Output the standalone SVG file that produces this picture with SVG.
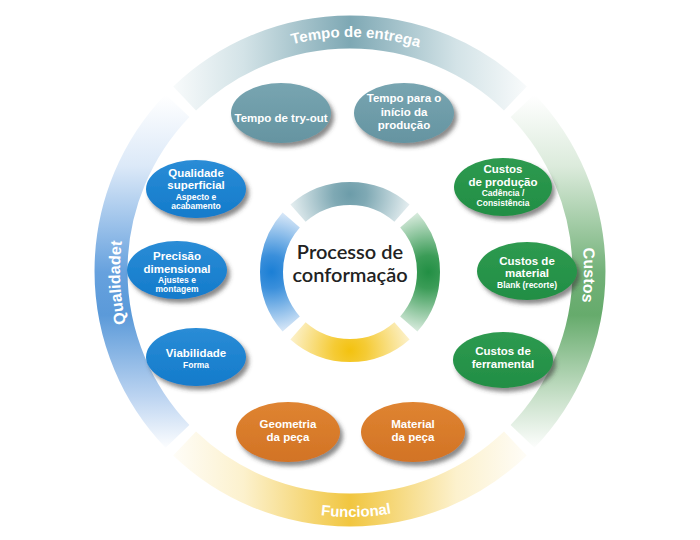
<svg xmlns="http://www.w3.org/2000/svg" width="700" height="540" viewBox="0 0 700 540">
<defs>
<style>
.ring{fill:none;stroke-width:33}
.iring{fill:none;stroke-width:23}
.rt{font-family:"Liberation Sans",Arial,sans-serif;font-weight:bold;fill:#fff}
.t{font-family:"Liberation Sans",Arial,sans-serif;font-weight:bold;fill:#fff;font-size:11.5px;text-anchor:middle}
.s{font-family:"Liberation Sans",Arial,sans-serif;font-weight:bold;fill:#fff;font-size:8.5px;text-anchor:middle}
.c{font-family:Lato,"Open Sans",sans-serif;font-weight:600;fill:#222;font-size:20px;text-anchor:middle}
.n{filter:url(#sh)}
</style>
<filter id="sh" x="-20%" y="-20%" width="140%" height="150%">
<feDropShadow dx="3" dy="4" stdDeviation="2.2" flood-color="#3a3a3a" flood-opacity="0.6"/>
</filter>
<linearGradient id="oTop" gradientUnits="userSpaceOnUse" x1="160" y1="0" x2="540" y2="0">
<stop offset="0" stop-color="#ffffff"/><stop offset="0.22" stop-color="#d3e3e7"/><stop offset="0.5" stop-color="#7ea8b4"/><stop offset="0.78" stop-color="#d3e3e7"/><stop offset="1" stop-color="#ffffff"/>
</linearGradient>
<linearGradient id="oBot" gradientUnits="userSpaceOnUse" x1="160" y1="0" x2="540" y2="0">
<stop offset="0" stop-color="#ffffff"/><stop offset="0.22" stop-color="#fcf1cd"/><stop offset="0.5" stop-color="#f1c640"/><stop offset="0.78" stop-color="#fcf1cd"/><stop offset="1" stop-color="#ffffff"/>
</linearGradient>
<linearGradient id="oLeft" gradientUnits="userSpaceOnUse" x1="0" y1="95" x2="0" y2="450">
<stop offset="0" stop-color="#ffffff"/><stop offset="0.2" stop-color="#dce9f8"/><stop offset="0.5" stop-color="#66a1de"/><stop offset="0.62" stop-color="#5b9ad9"/><stop offset="0.85" stop-color="#bcd4f1"/><stop offset="1" stop-color="#ffffff"/>
</linearGradient>
<linearGradient id="oRight" gradientUnits="userSpaceOnUse" x1="0" y1="95" x2="0" y2="450">
<stop offset="0" stop-color="#ffffff"/><stop offset="0.2" stop-color="#dcebdc"/><stop offset="0.5" stop-color="#72b178"/><stop offset="0.62" stop-color="#66ab6c"/><stop offset="0.85" stop-color="#c8e0c9"/><stop offset="1" stop-color="#ffffff"/>
</linearGradient>
<radialGradient id="iTop" gradientUnits="userSpaceOnUse" cx="350" cy="194" r="66">
<stop offset="0" stop-color="#6c9ca9"/><stop offset="0.25" stop-color="#7fa9b4"/><stop offset="1" stop-color="#f2f7f8"/>
</radialGradient>
<radialGradient id="iRight" gradientUnits="userSpaceOnUse" cx="428.5" cy="272" r="66">
<stop offset="0" stop-color="#228f44"/><stop offset="0.25" stop-color="#3b9c57"/><stop offset="1" stop-color="#eef6f0"/>
</radialGradient>
<radialGradient id="iBot" gradientUnits="userSpaceOnUse" cx="350" cy="350.5" r="66">
<stop offset="0" stop-color="#f3c20f"/><stop offset="0.25" stop-color="#f5cb35"/><stop offset="1" stop-color="#fdf6de"/>
</radialGradient>
<radialGradient id="iLeft" gradientUnits="userSpaceOnUse" cx="271.5" cy="272" r="66">
<stop offset="0" stop-color="#1b7fd5"/><stop offset="0.25" stop-color="#3a8fdb"/><stop offset="1" stop-color="#eef4fc"/>
</radialGradient>
<linearGradient id="gTeal" x1="0" y1="0" x2="0" y2="1">
<stop offset="0" stop-color="#78a5b1"/><stop offset="1" stop-color="#6594a1"/>
</linearGradient>
<linearGradient id="gBlue" x1="0" y1="0" x2="0" y2="1">
<stop offset="0" stop-color="#2a8cd6"/><stop offset="1" stop-color="#137bcb"/>
</linearGradient>
<linearGradient id="gGreen" x1="0" y1="0" x2="0" y2="1">
<stop offset="0" stop-color="#2e9a50"/><stop offset="1" stop-color="#218e44"/>
</linearGradient>
<linearGradient id="gOrange" x1="0" y1="0" x2="0" y2="1">
<stop offset="0" stop-color="#df8431"/><stop offset="1" stop-color="#d27325"/>
</linearGradient>
<path id="pTop" d="M147.4,154 A234,234 0 0 1 552.6,154"/>
<path id="pBot" d="M137,394 A246,246 0 0 0 563,394"/>
<path id="pLeft" d="M154.9,392.9 A230,230 0 0 1 146.9,163"/>
<path id="pRight" d="M554.7,157.5 A234,234 0 0 1 550.6,391.5"/>
</defs>
<rect width="700" height="540" fill="#ffffff"/>

<g id="outer-ring">
<path class="ring" stroke="url(#oTop)" d="M184.6,98.5 A239,239 0 0 1 515.4,98.5"/>
<path class="ring" stroke="url(#oRight)" d="M522.5,105.6 A239,239 0 0 1 522.5,436.4"/>
<path class="ring" stroke="url(#oBot)" d="M515.4,443.5 A239,239 0 0 1 184.6,443.5"/>
<path class="ring" stroke="url(#oLeft)" d="M177.5,436.4 A239,239 0 0 1 177.5,105.6"/>
<text class="rt" font-size="15"><textPath href="#pTop" startOffset="51.2%" text-anchor="middle">Tempo de entrega</textPath></text>
<text class="rt" font-size="15"><textPath href="#pBot" startOffset="51.2%" text-anchor="middle">Funcional</textPath></text>
<text class="rt" font-size="16"><textPath href="#pLeft" startOffset="48.5%" text-anchor="middle">Qualidadet</textPath></text>
<text class="rt" font-size="16"><textPath href="#pRight" startOffset="50%" text-anchor="middle">Custos</textPath></text>
</g>

<g id="center">
<path class="iring" stroke="url(#iTop)" d="M298,213.2 A78.5,78.5 0 0 1 402,213.2"/>
<path class="iring" stroke="url(#iRight)" d="M408.8,220 A78.5,78.5 0 0 1 408.8,324"/>
<path class="iring" stroke="url(#iBot)" d="M402,330.8 A78.5,78.5 0 0 1 298,330.8"/>
<path class="iring" stroke="url(#iLeft)" d="M291.2,324 A78.5,78.5 0 0 1 291.2,220"/>
<text class="c" x="350" y="259">Processo de</text>
<text class="c" x="350" y="282">conformação</text>
</g>

<g id="connectors"></g>

<g id="node-tryout">
<ellipse class="n" cx="281" cy="113" rx="50" ry="30" fill="url(#gTeal)"/>
<text class="t" x="281" y="122">Tempo de try-out</text>
</g>
<g id="node-inicio">
<ellipse class="n" cx="404" cy="113" rx="50" ry="30" fill="url(#gTeal)"/>
<text class="t" x="404" y="102">Tempo para o</text>
<text class="t" x="404" y="116">início da</text>
<text class="t" x="404" y="129">produção</text>
</g>
<g id="node-qualidade">
<ellipse class="n" cx="196" cy="189" rx="50" ry="29" fill="url(#gBlue)"/>
<text class="t" x="196" y="177">Qualidade</text>
<text class="t" x="196" y="189">superficial</text>
<text class="s" x="196" y="200">Aspecto e</text>
<text class="s" x="196" y="209">acabamento</text>
</g>
<g id="node-precisao">
<ellipse class="n" cx="177" cy="270" rx="50" ry="29" fill="url(#gBlue)"/>
<text class="t" x="177" y="260">Precisão</text>
<text class="t" x="177" y="272.5">dimensional</text>
<text class="s" x="177" y="283">Ajustes e</text>
<text class="s" x="177" y="291.5">montagem</text>
</g>
<g id="node-viabilidade">
<ellipse class="n" cx="196" cy="357" rx="50" ry="29" fill="url(#gBlue)"/>
<text class="t" x="196" y="357">Viabilidade</text>
<text class="s" x="196" y="368">Forma</text>
</g>
<g id="node-geometria">
<ellipse class="n" cx="288" cy="432" rx="52" ry="30" fill="url(#gOrange)"/>
<text class="t" x="288" y="428">Geometria</text>
<text class="t" x="288" y="441">da peça</text>
</g>
<g id="node-material-peca">
<ellipse class="n" cx="413" cy="432" rx="52" ry="30" fill="url(#gOrange)"/>
<text class="t" x="413" y="428">Material</text>
<text class="t" x="413" y="441">da peça</text>
</g>
<g id="node-custos-producao">
<ellipse class="n" cx="503" cy="187" rx="49" ry="29" fill="url(#gGreen)"/>
<text class="t" x="503" y="173">Custos</text>
<text class="t" x="503" y="185.5">de produção</text>
<text class="s" x="503" y="196">Cadência /</text>
<text class="s" x="503" y="205.5">Consistência</text>
</g>
<g id="node-custos-material">
<ellipse class="n" cx="527" cy="271" rx="50" ry="29" fill="url(#gGreen)"/>
<text class="t" x="527" y="265">Custos de</text>
<text class="t" x="527" y="277">material</text>
<text class="s" x="527" y="288">Blank (recorte)</text>
</g>
<g id="node-custos-ferramental">
<ellipse class="n" cx="503" cy="360" rx="50" ry="28" fill="url(#gGreen)"/>
<text class="t" x="503" y="355">Custos de</text>
<text class="t" x="503" y="367.5">ferramental</text>
</g>
</svg>
